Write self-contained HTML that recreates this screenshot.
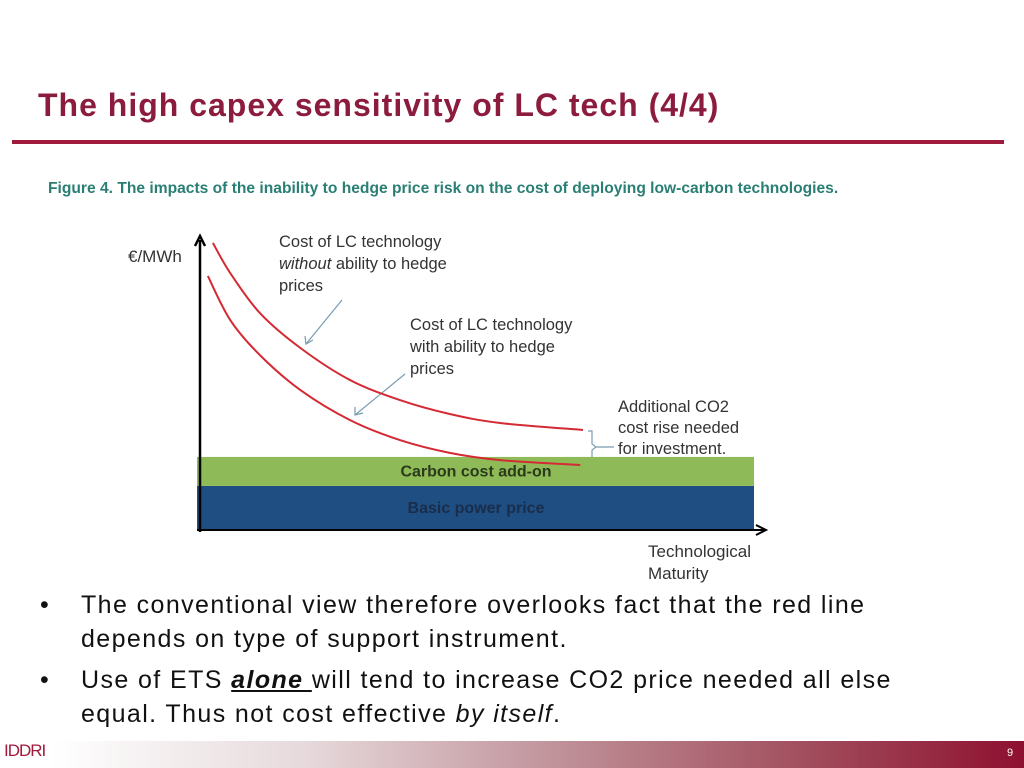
<!DOCTYPE html>
<html><head><meta charset="utf-8"><style>
body{margin:0;width:1024px;height:768px;background:#fff;position:relative;overflow:hidden;font-family:"Liberation Sans",sans-serif}
.t{position:absolute;white-space:nowrap}
</style></head><body>
<div class="t" style="left:38px;top:87px;font-size:32px;font-weight:bold;color:#8c1c3e;letter-spacing:1px">The high capex sensitivity of LC tech (4/4)</div>
<div style="position:absolute;left:12px;top:140px;width:992px;height:4px;background:#a01a3c"></div>
<div class="t" style="left:48px;top:180px;font-size:15.6px;font-weight:bold;color:#2a7f74">Figure 4. The impacts of the inability to hedge price risk on the cost of deploying low-carbon technologies.</div>
<svg width="1024" height="768" style="position:absolute;left:0;top:0" id="ch" font-family="Liberation Sans, sans-serif">
<text x="128" y="262" font-size="17" fill="#333">€/MWh</text>
<text x="648" y="557" font-size="17" fill="#333">Technological</text>
<text x="648" y="579" font-size="17" fill="#333">Maturity</text>
<text font-size="16.5" fill="#333"><tspan x="279" y="247">Cost of LC technology</tspan><tspan x="279" y="269"><tspan font-style="italic">without</tspan> ability to hedge</tspan><tspan x="279" y="291">prices</tspan></text>
<text font-size="16.5" fill="#333"><tspan x="410" y="330">Cost of LC technology</tspan><tspan x="410" y="352">with ability to hedge</tspan><tspan x="410" y="374">prices</tspan></text>
<text font-size="16.5" fill="#333"><tspan x="618" y="412">Additional CO2</tspan><tspan x="618" y="433">cost rise needed</tspan><tspan x="618" y="454">for investment.</tspan></text>
<line x1="342" y1="300" x2="306" y2="344" stroke="#7a9cb0" stroke-width="1.2"/>
<polyline points="305,336 306,344 313,340" fill="none" stroke="#7a9cb0" stroke-width="1.2"/>
<line x1="405" y1="374" x2="355" y2="415" stroke="#7a9cb0" stroke-width="1.2"/>
<polyline points="355,407 355,415 363,413" fill="none" stroke="#7a9cb0" stroke-width="1.2"/>
<path d="M588,431 h4 v13 l4,3 l-4,3 v12 h-4 M596,447 h18" fill="none" stroke="#7a9cb0" stroke-width="1.2"/>
</svg>
<script>
const bandLabels=["Basic power price","Carbon cost add-on"];
const bandTops=[15.2,25.2];
const upperX=[2.3,5.4,10.7,17.9,26.8,35.7,44.6,53.6,68.4];
const upperY=[99,88.6,74.8,62.8,51.7,44.8,40,36.9,34.5];
const lowerX=[1.4,5.4,10.7,17.9,26.8,35.7,44.6,53.6,67.9];
const lowerY=[87.6,72.4,60.3,48.3,37.9,31,26.6,24.1,22.4];
const sx=u=>200+u*5.6, sy=v=>530-v*2.9;
const svg=document.getElementById('ch');const NS='http://www.w3.org/2000/svg';
function mk(t,a){const e=document.createElementNS(NS,t);for(const k in a)e.setAttribute(k,a[k]);svg.appendChild(e);return e;}
const colors=["#1f4e82","#8fba58"], tcol=["#1a2d4a","#2b3a1a"];
let prev=0;
bandTops.forEach((top,i)=>{
 const r=mk('rect',{x:197,y:sy(top),width:557,height:sy(prev)-sy(top),fill:colors[i]});
 
 
 const t=mk('text',{x:476,y:(sy(top)+sy(prev))/2+5,'font-size':16,'font-weight':'bold','text-anchor':'middle',fill:tcol[i]});
 t.textContent=bandLabels[i];
 
 
 prev=top;
});
function curve(xs,ys,name){
 const p=xs.map((x,i)=>[sx(x),sy(ys[i])]);let d='M'+p[0];
 for(let i=0;i<p.length-1;i++){const p0=p[i-1]||p[i],p1=p[i],p2=p[i+1],p3=p[i+2]||p2;
  d+=' C'+(p1[0]+(p2[0]-p0[0])/6)+','+(p1[1]+(p2[1]-p0[1])/6)+' '+(p2[0]-(p3[0]-p1[0])/6)+','+(p2[1]-(p3[1]-p1[1])/6)+' '+p2;}
 const e=mk('path',{d:d,fill:'none',stroke:'#d42a34','stroke-width':2});
 
 
}
curve(upperX,upperY,'curve-without-hedge');
curve(lowerX,lowerY,'curve-with-hedge');
const ya=mk('path',{d:'M200,532 V240 M195,246 L200,236 L205,246',fill:'none',stroke:'#000','stroke-width':2.5});


const xa=mk('path',{d:'M197,530 H764 M756,525 L766,530 L756,535',fill:'none',stroke:'#000','stroke-width':2});


</script>
<div style="position:absolute;left:40px;top:588px;font-size:25px;color:#111;line-height:34px;letter-spacing:1.4px">
<div style="position:relative;padding-left:41px;width:830px"><span style="position:absolute;left:0">•</span>The conventional view therefore overlooks fact that the red line depends on type of support instrument.</div>
<div style="position:relative;padding-left:41px;margin-top:7px;width:840px"><span style="position:absolute;left:0">•</span>Use of ETS <b><i><u>alone </u></i></b>will tend to increase CO2 price needed all else equal. Thus not cost effective <i>by itself</i>.</div>
</div>
<div style="position:absolute;left:0;top:741px;width:1024px;height:27px;background:linear-gradient(90deg,#fff 5%,#e6d9db 30%,#bf9098 55%,#a04a5a 80%,#8e1030)"></div>
<div class="t" style="left:4px;top:741px;font-size:17px;color:#a01a3c;letter-spacing:-1px">IDDRI</div>
<div class="t" style="left:1007px;top:747px;font-size:11px;color:#fff">9</div>
</body></html>
